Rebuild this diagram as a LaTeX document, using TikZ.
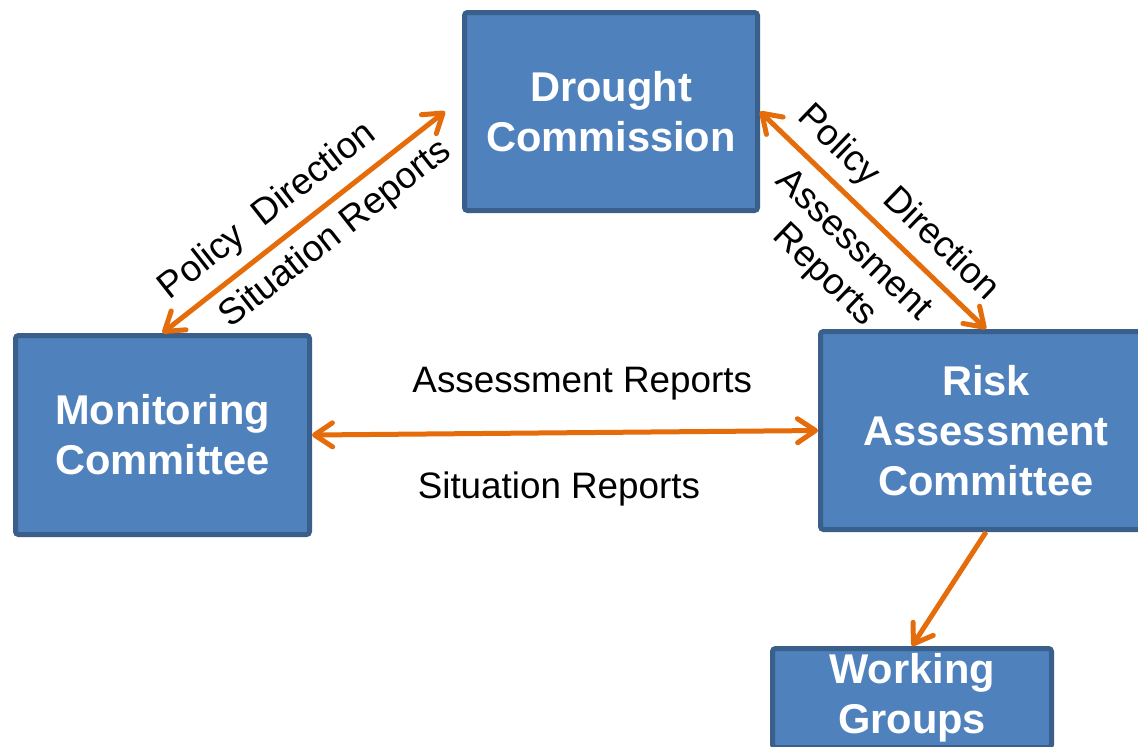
\documentclass[tikz,border=0pt]{standalone}
\usepackage{fontspec}
\setmainfont{Liberation Sans}
\usetikzlibrary{arrows.meta}
\definecolor{boxfill}{HTML}{4F81BD}
\definecolor{boxline}{HTML}{3A5F8B}
\definecolor{flowcolor}{HTML}{E46C0A}
\tikzset{box/.style = {draw=boxline, fill=boxfill, line width=2.5pt, rounded corners=1.5pt,
                       text=white, align=center, inner sep=0,
                       font=\fontsize{20.8}{25}\selectfont\bfseries}}
\tikzset{flowline/.style = {draw=flowcolor, line width=2.5pt,
                            >={Straight Barb[length=9pt, width=12pt, round]}}}
\tikzset{lbl/.style = {font=\fontsize{18.4}{21}\selectfont, text=black, align=center}}

\begin{document}
\begin{tikzpicture}[x=0.5pt, y=-0.5pt]
      \useasboundingbox (0, 0) rectangle (1138, 746);
      \clip (0, 0) rectangle (1138, 746);

      \node [box, minimum width=146.5pt, minimum height=99pt] (dc) at (611, 111.5) {Drought\\Commission};
      \node [box, minimum width=147pt, minimum height=99.5pt] (mc) at (162.5, 435) {Monitoring\\Committee};
      \node [box, minimum width=165.5pt, minimum height=99pt] (rac) at (986, 430.5) {Risk\\Assessment\\Committee};
      \node [box, minimum width=139.5pt, minimum height=49.5pt] (wg) at (912, 698) {Working\\Groups};

      \draw [flowline, <->] (mc.north) -- ([xshift=-8.5pt]dc.west)
        node [lbl, pos=0.44, sloped, above, inner sep=5.5pt] {Policy\ \ Direction}
        node [lbl, pos=0.55, sloped, below, inner sep=4.8pt] {Situation Reports};
      \draw [flowline, <->] (dc.east) -- (rac.north)
        node [lbl, pos=0.52, sloped, above, inner sep=4.8pt] {Policy\ \ Direction}
        node [lbl, pos=0.51, sloped, below, inner sep=6.8pt] {Assessment\\Reports};
      \draw [flowline, <->] (mc.east) -- (rac.west)
        node [lbl, pos=0.534, above, inner sep=15pt] {Assessment Reports}
        node [lbl, pos=0.488, below, inner sep=18.3pt] {Situation Reports};
      \draw [flowline, ->] (rac.south) -- (wg.north);
    \end{tikzpicture}
\end{document}
